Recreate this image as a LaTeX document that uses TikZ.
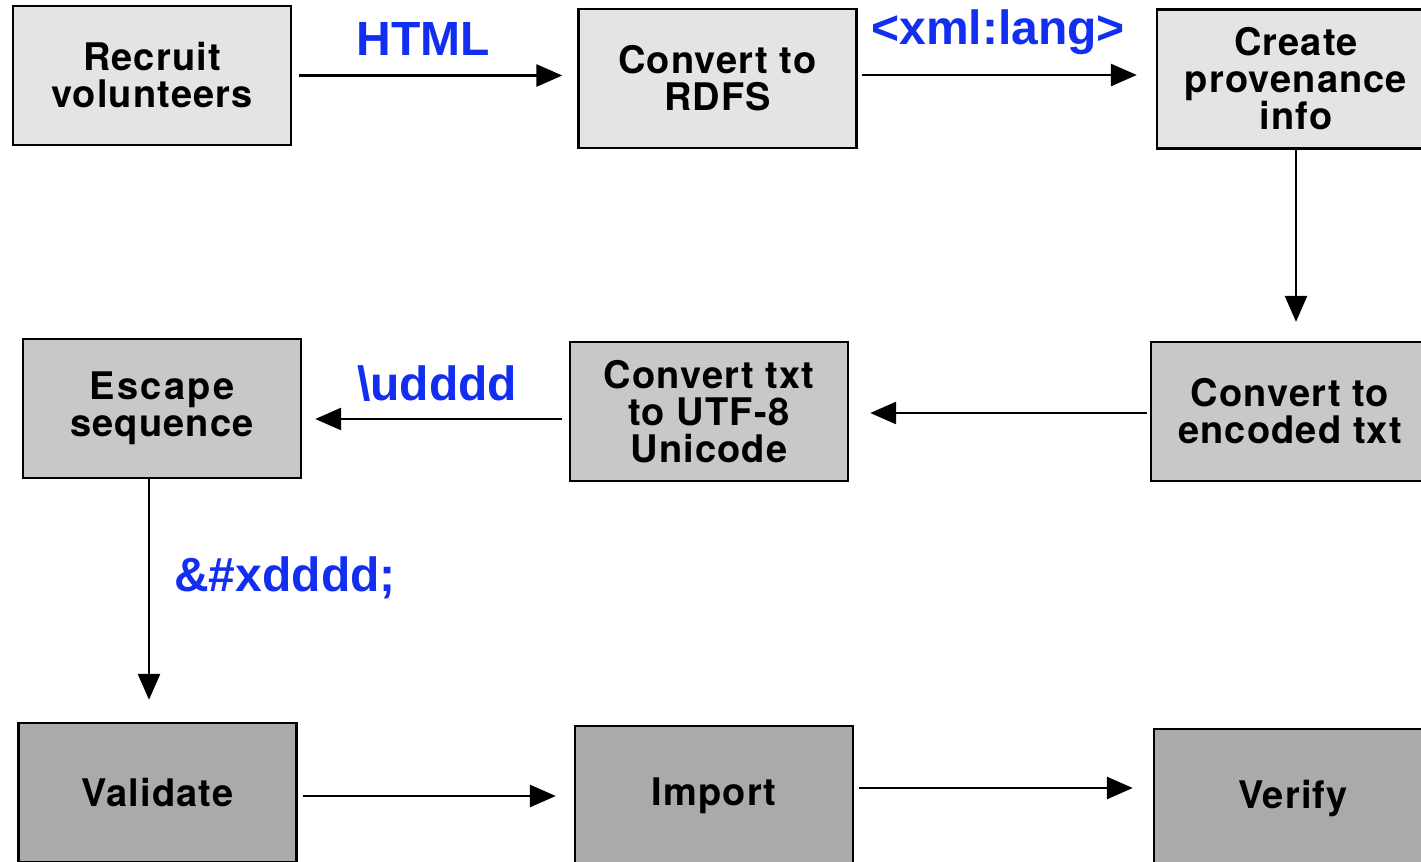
\documentclass[tikz,border=0pt]{standalone}
\usepackage{fontspec}
\setmainfont{TeX Gyre Heros}
\newfontfamily\labelfont{Liberation Sans}
\usetikzlibrary{arrows.meta, positioning, calc}
\definecolor{labelblue}{RGB}{18,46,240}
\definecolor{rowone}{RGB}{228,228,228}
\definecolor{rowtwo}{RGB}{200,200,200}
\definecolor{rowthree}{RGB}{170,170,170}

\begin{document}
\begin{tikzpicture}[x=0.5pt, y=-0.5pt,
    box/.style={draw, line width=1.2pt, minimum width=139pt, minimum height=69.5pt,
        inner sep=0pt, align=center,
        font=\fontsize{19}{18.5}\selectfont\bfseries\addfontfeature{LetterSpace=3}},
    flow/.style={-{Triangle[length=13pt,width=11pt]}, line width=1.4pt},
    lbl/.style={text=labelblue, anchor=base, font=\fontsize{24}{28}\selectfont\labelfont\bfseries}]
        \clip (0,0) rectangle (1421,862);
        % Top row
        \node[box, fill=rowone] (recruit) at (152,75.5) {Recruit\\volunteers};
        \node[box, fill=rowone] (rdfs) at (717.5,78.5) {Convert to\\RDFS};
        \node[box, fill=rowone] (provenance) at (1296,79) {Create\\provenance\\info};
        % Middle row
        \node[box, fill=rowtwo] (escape) at (162,408.5) {\addfontfeature{LetterSpace=6}Escape\\sequence};
        \node[box, fill=rowtwo] (utf) at (709,411.5) {Convert txt\\to UTF-8\\Unicode};
        \node[box, fill=rowtwo] (encode) at (1290,411.5) {Convert to\\encoded txt};
        % Bottom row
        \node[box, fill=rowthree] (validate) at (157.5,792.5) {Validate};
        \node[box, fill=rowthree] (import) at (714,795.5) {Import};
        \node[box, fill=rowthree] (verify) at (1293,798.5) {Verify};
        % Blue labels
        \node[lbl] (html) at (423,55) {HTML};
        \node[lbl] (xmllang) at (998,44) {<xml:lang>};
        \node[lbl] (udddd) at (437,400) {\textbackslash udddd};
        \node[lbl] (xdddd) at (285,591) {\&\#xdddd;};
        % Arrows
        \draw[flow, shorten <=3.5pt, shorten >=7.5pt] (recruit.east) -- (recruit.east -| rdfs.west);
        \draw[flow, shorten <=2pt, shorten >=9.5pt] ($(rdfs.east)+(0,-3.5)$) -- ($(rdfs.east -| provenance.west)+(0,-3.5)$);
        \draw[flow, shorten >=9.5pt] (provenance.south) -- (provenance.south |- encode.north);
        \draw[flow, shorten <=1.5pt, shorten >=10.5pt] ($(encode.west)+(0,1.5)$) -- ($(encode.west -| utf.east)+(0,1.5)$);
        \draw[flow, shorten <=3.5pt, shorten >=6.5pt] ($(utf.west)+(0,7.5)$) -- ($(utf.west -| escape.east)+(0,7.5)$);
        \draw[flow, shorten >=11pt] ($(escape.south)+(-13,0)$) -- ($(escape.south |- validate.north)+(-13,0)$);
        \draw[flow, shorten <=2.5pt, shorten >=9pt] ($(validate.east)+(0,3.5)$) -- ($(validate.east -| import.west)+(0,3.5)$);
        \draw[flow, shorten <=2.5pt, shorten >=10pt] ($(import.east)+(0,-7.5)$) -- ($(import.east -| verify.west)+(0,-7.5)$);
    \end{tikzpicture}
\end{document}
